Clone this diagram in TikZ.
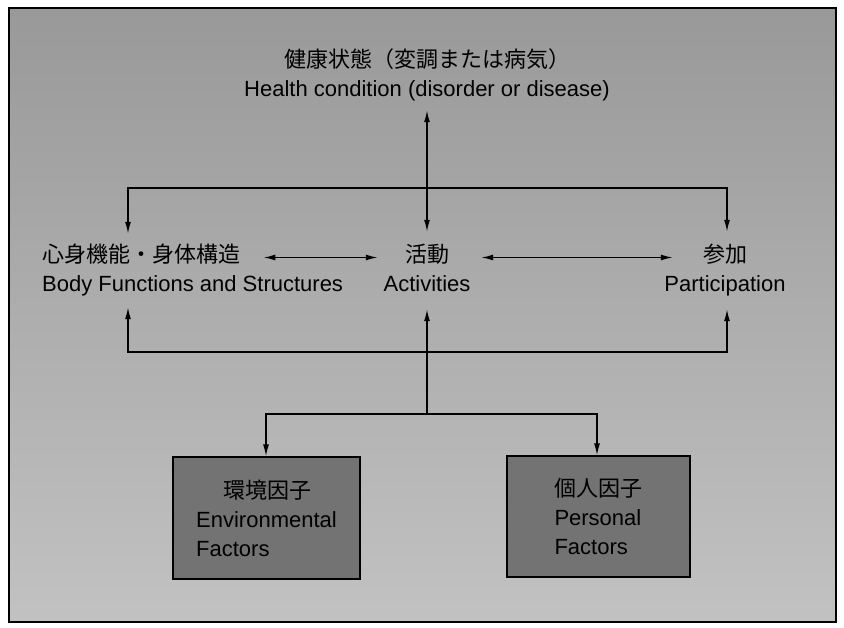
\documentclass[tikz,border=0pt]{standalone}
\usepackage{fontspec}
\setmainfont{Liberation Sans}
\newfontfamily\jpfont{Noto Sans CJK JP}
\usetikzlibrary{arrows.meta}
\begin{document}
\begin{tikzpicture}[x=1pt,y=-1pt,
  lbl/.style={anchor=base, inner sep=2pt, text height=17pt, text depth=6pt, font=\fontsize{22}{30}\selectfont},
  jlbl/.style={lbl, font=\jpfont\fontsize{22}{30}\selectfont},
  conn/.style={line width=1.5pt, draw=black, line join=miter},
  arr/.style={conn, -{Latex[length=12pt,width=6pt]}},
  darr/.style={conn, {Latex[length=12pt,width=6pt]}-{Latex[length=12pt,width=6pt]}},
  factorbox/.style={draw=black, line width=1.2pt, fill=black!55, minimum width=187pt, minimum height=122pt, align=left, inner sep=0pt, font=\fontsize{22}{29}\selectfont},
  frame/.style={draw=black, line width=1.6pt, top color=black!40, bottom color=black!24}]
\useasboundingbox (0,0) rectangle (844,628);
\fill[white] (0,0) rectangle (844,628);
\path[frame] (9,8) rectangle (836,622);

% labels
\node[jlbl] (hcj) at (427,68) {健康状態（変調または病気）};
\node[lbl] (hce) at (427,97) {Health condition (disorder or disease)};
\node[jlbl, anchor=base west, inner sep=0pt] (bfj) at (42,263) {心身機能・身体構造};
\node[lbl, anchor=base west, inner sep=0pt] (bfe) at (42,292) {Body Functions and Structures};
\node[jlbl] (actj) at (427,263) {活動};
\node[lbl] (acte) at (427,292) {Activities};
\node[jlbl] (parj) at (725,263) {参加};
\node[lbl] (pare) at (725,292) {Participation};

% factor boxes
\node[factorbox] (env) at (266.5,518) {{\jpfont\hspace*{27pt}環境因子}\\Environmental\\Factors};
\node[factorbox, minimum width=183pt, minimum height=121pt] (pers) at (598.5,516.5) {{\jpfont 個人因子}\\Personal\\Factors};

% junction coordinates
\coordinate (tl) at (128,188);
\coordinate (tr) at (727,188);
\coordinate (bl) at (128,352);
\coordinate (br) at (727,352);
\coordinate (bc) at (427,414);
\coordinate (bL) at (266,414);
\coordinate (bR) at (597,414);

% health condition <-> activities
\draw[darr, shorten <=5pt, shorten >=12pt] (hce.south) -- (actj.north);
% top loop
\draw[arr, shorten >=12pt] (tr) -- (tl) -- (tl |- bfj.north);
\draw[arr, shorten >=12pt] (tl) -- (tr) -- (tr |- parj.north);
% horizontal double arrows
\draw[darr, shorten <=23pt, shorten >=25pt] (bfj.east) -- (actj.west);
\draw[darr, shorten <=30pt, shorten >=28pt] (actj.east) -- (parj.west);
% bottom loop
\draw[arr, shorten >=9pt] (br) -- (bl) -- (bl |- bfe.south);
\draw[arr, shorten >=9pt] (bl) -- (br) -- (br |- pare.south);
% central up arrow
\draw[arr, shorten >=9pt] (bc) -- (acte.south);
% branch to factors
\draw[arr] (bR) -- (bL) -- (bL |- env.north);
\draw[arr] (bL) -- (bR) -- (bR |- pers.north);
\end{tikzpicture}
\end{document}
